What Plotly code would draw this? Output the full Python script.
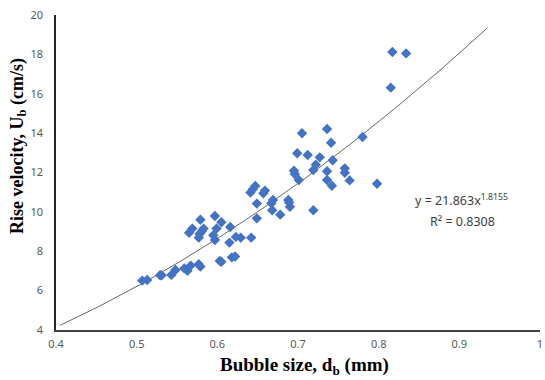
import numpy as np
import plotly.graph_objects as go

# Bubble size (mm) and rise velocity (cm/s)
bubble_size = [0.507, 0.513, 0.529, 0.531, 0.543, 0.548, 0.559, 0.563, 0.567, 0.577,
               0.579, 0.565, 0.569, 0.577, 0.578, 0.581, 0.583, 0.579, 0.595, 0.597,
               0.597, 0.599, 0.605, 0.603, 0.605, 0.615, 0.616, 0.618, 0.622, 0.623,
               0.629, 0.642, 0.641, 0.644, 0.647, 0.649, 0.649, 0.657, 0.659, 0.667,
               0.669, 0.668, 0.678, 0.688, 0.689, 0.690, 0.695, 0.696, 0.701, 0.699,
               0.705, 0.712, 0.719, 0.719, 0.722, 0.727, 0.736, 0.736, 0.736, 0.741,
               0.742, 0.743, 0.758, 0.758, 0.764, 0.780, 0.798, 0.815, 0.817, 0.834]
rise_velocity = [6.51, 6.54, 6.78, 6.78, 6.80, 7.05, 7.13, 7.01, 7.27, 7.34,
                 7.22, 8.94, 9.15, 8.69, 8.88, 9.03, 9.15, 9.60, 8.81, 8.57,
                 9.79, 9.15, 9.47, 7.51, 7.47, 8.44, 9.23, 7.69, 7.73, 8.73,
                 8.69, 8.69, 10.98, 11.15, 11.32, 10.42, 9.67, 10.94, 11.08, 10.44,
                 10.60, 10.08, 9.86, 10.60, 10.47, 10.26, 12.09, 11.92, 11.62, 12.98,
                 13.99, 12.89, 10.08, 12.13, 12.40, 12.77, 14.21, 12.06, 11.62, 13.51,
                 11.33, 12.62, 12.21, 11.99, 11.60, 13.80, 11.43, 16.31, 18.12, 18.05]

# Power-law trendline coefficients (as printed on the chart)
fit_a = 21.863
fit_b = 1.8155
fit_r2 = 0.8308
fit_range = [0.405, 0.935]

x_ticks = [0.4, 0.5, 0.6, 0.7, 0.8, 0.9, 1.0]
x_tick_labels = ["0.4", "0.5", "0.6", "0.7", "0.8", "0.9", "1"]
y_ticks = [4, 6, 8, 10, 12, 14, 16, 18, 20]

fx = np.linspace(fit_range[0], fit_range[1], 200)
fy = fit_a * fx ** fit_b

fig = go.Figure()
fig.add_trace(go.Scatter(
    x=fx, y=fy, mode="lines",
    line=dict(color="#404040", width=0.8),
    hoverinfo="skip", showlegend=False))
fig.add_trace(go.Scatter(
    x=bubble_size, y=rise_velocity, mode="markers",
    marker=dict(symbol="diamond", size=8, color="#4472C4"),
    showlegend=False))

tick_font = dict(family="Noto Sans, Open Sans, sans-serif", size=11, color="#595959")
title_font = dict(family="Liberation Serif, Times New Roman, serif", size=19, color="#000000")

fig.update_layout(
    width=545, height=380,
    margin=dict(l=56, r=2, t=15, b=50),
    paper_bgcolor="white", plot_bgcolor="white",
    xaxis=dict(range=[0.4, 1.0], tickvals=x_ticks, ticktext=x_tick_labels,
               showgrid=False, zeroline=False, showline=True,
               linecolor="#404040", linewidth=1.5,
               ticks="outside", ticklen=3, tickcolor="rgba(0,0,0,0)",
               ticklabeloverflow="allow",
               tickfont=tick_font),
    yaxis=dict(range=[4, 20], tickvals=y_ticks,
               showgrid=False, zeroline=False, showline=True,
               linecolor="#262626", linewidth=1.5,
               ticks="outside", ticklen=9, tickcolor="rgba(0,0,0,0)",
               tickfont=tick_font),
)

fig.add_annotation(xref="paper", yref="paper", x=0.514, y=-0.118, yshift=1,
                   text="<b>Bubble size, d<sub>b</sub> (mm)</b>",
                   showarrow=False, font=title_font, xanchor="center", yanchor="middle")
fig.add_annotation(xref="paper", yref="paper", x=-0.078, y=0.585,
                   text="<b>Rise velocity, U<sub>b</sub> (cm/s)</b>",
                   showarrow=False, font=dict(title_font, size=18), textangle=-90,
                   xanchor="center", yanchor="middle")

eq_font = dict(family="Noto Sans, Open Sans, sans-serif", size=12.5, color="#404040")
fig.add_annotation(xref="paper", yref="paper", x=0.838, y=0.4127,
                   text=f"y = {fit_a}x<sup>{fit_b}</sup>",
                   showarrow=False, font=eq_font, xanchor="center", yanchor="middle")
fig.add_annotation(xref="paper", yref="paper", x=0.84, y=0.343,
                   text=f"R² = {fit_r2}",
                   showarrow=False, font=eq_font, xanchor="center", yanchor="middle")

fig.write_html("out.html", config={"displayModeBar": False},
               post_script="document.body.style.margin='0';document.body.style.overflow='hidden';")
